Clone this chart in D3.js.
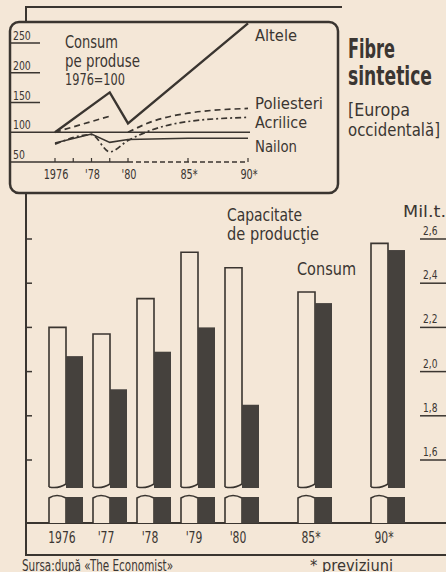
<!DOCTYPE html>
<html>
<head>
<meta charset="utf-8">
<script src="https://cdn.jsdelivr.net/npm/d3@7"></script>
<style>
  body { margin: 0; background: #f4e7d7; }
  svg text { font-family: "Liberation Sans Narrow", "DejaVu Sans Condensed", "DejaVu Sans", sans-serif; fill: #3b3632; }
</style>
</head>
<body>
<svg id="chart" width="446" height="572"></svg>
<script>
// --- bar chart: Mil. t.
var yearLabels = ["1976", "'77", "'78", "'79", "'80", "85*", "90*"];
var years = [1976, 1977, 1978, 1979, 1980, 1985, 1990];
var capacitate = [2.20, 2.17, 2.33, 2.54, 2.47, 2.36, 2.58];
var consum = [2.07, 1.92, 2.09, 2.20, 1.85, 2.31, 2.55];
var barTicks = [1.6, 1.8, 2.0, 2.2, 2.4, 2.6];

// --- inset: consum pe produse, 1976=100
var altele = [[1976, 100], [1979, 167], [1980, 115], [1990, 283]];
var poliesteri = [[1976, 100], [1979, 127], null, [1980, 100], [1982, 118], [1985, 132], [1990, 140]];
var acrilice = [[1976, 80], [1978, 96], [1979, 67], [1980, 86], [1982, 104], [1985, 118], [1990, 125]];
var nailon = [[1976, 82], [1978, 97], [1979, 83], [1980, 88], [1985, 90], [1990, 90]];
var insetTicks = [50, 100, 150, 200, 250];
var insetYears = [1976, 1977, 1978, 1979, 1980, 1985, 1990];
var insetYearLabels = [[1976, "1976"], [1978, "'78"], [1980, "'80"], [1985, "85*"], [1990, "90*"]];

var ink = "#3a3530";
var paper = "#f4e7d7";
var svg = d3.select("#chart");

// the printed type is narrow: squeeze text to a width
function label(parent, x, y, size, w, str, weight) {
  var t = parent.append("text").attr("x", x).attr("y", y).attr("font-size", size).text(str);
  if (w) t.attr("textLength", w).attr("lengthAdjust", "spacingAndGlyphs");
  if (weight) t.attr("font-weight", weight);
  return t;
}
function condense(sel, k) {
  sel.each(function() {
    var w = this.getComputedTextLength();
    d3.select(this).attr("textLength", w * k).attr("lengthAdjust", "spacingAndGlyphs");
  });
}

// outer frame
svg.append("path")
  .attr("d", "M26,22 V7 H342 M26,193 V555 H446 M26,523 H446")
  .attr("fill", "none").attr("stroke", ink).attr("stroke-width", 2);

// ================= bar chart =================
var x = d3.scaleLinear().domain([1976, 1980, 1985, 1990]).range([66, 242, 315, 388]);
var y = d3.scaleLinear().domain([1.6, 2.6]).range([460, 239]);
var bw = 17, breakTop = 487, breakBottom = 497, base = 523;

var groups = svg.append("g").selectAll("g")
  .data(years.map(function(d, i) { return {year: d, label: yearLabels[i], cap: capacitate[i], con: consum[i]}; }))
  .enter().append("g");

// capacity (white) bars - upper part with broken bottom
groups.append("path")
  .attr("d", function(d) {
    var l = x(d.year) - bw, r = x(d.year), t = y(d.cap);
    return "M" + l + "," + breakTop + " V" + t + " H" + r + " V" + (breakTop - 3) +
      " Q" + (l + bw * 0.55) + "," + (breakTop + 2) + " " + l + "," + breakTop;
  })
  .attr("fill", paper).attr("stroke", ink).attr("stroke-width", 1.6);

// capacity (white) bars - lower stub
groups.append("path")
  .attr("d", function(d) {
    var l = x(d.year) - bw, r = x(d.year);
    return "M" + l + "," + base + " V" + (breakBottom + 1) +
      " Q" + (l + bw * 0.45) + "," + (breakBottom - 4) + " " + r + "," + (breakBottom + 1) + " V" + base;
  })
  .attr("fill", paper).attr("stroke", ink).attr("stroke-width", 1.6);

// consumption (dark) bars
groups.append("rect")
  .attr("x", function(d) { return x(d.year); })
  .attr("y", function(d) { return y(d.con); })
  .attr("width", bw)
  .attr("height", function(d) { return breakTop + 1 - y(d.con); })
  .attr("fill", "#45413d");
groups.append("rect")
  .attr("x", function(d) { return x(d.year); })
  .attr("y", breakBottom)
  .attr("width", bw)
  .attr("height", base - breakBottom)
  .attr("fill", "#45413d");

// year labels
groups.append("text")
  .attr("x", function(d) { return x(d.year) - 4; })
  .attr("y", 543)
  .attr("text-anchor", "middle")
  .attr("font-size", 15)
  .text(function(d) { return d.label; })
  .call(condense, 0.8);

// left ticks
svg.append("g").selectAll("line").data(barTicks).enter().append("line")
  .attr("x1", 26).attr("x2", 32)
  .attr("y1", function(d) { return y(d); }).attr("y2", function(d) { return y(d); })
  .attr("stroke", ink).attr("stroke-width", 1.5);

// right axis labels, underlined
var fmt = d3.format(".1f");
var rAxis = svg.append("g").selectAll("g").data(barTicks).enter().append("g");
rAxis.append("text")
  .attr("x", 423).attr("y", function(d) { return y(d) - 4; })
  .attr("font-size", 12)
  .text(function(d) { return fmt(d).replace(".", ","); })
  .call(condense, 0.84);
rAxis.append("line")
  .attr("x1", 420).attr("x2", 446)
  .attr("y1", function(d) { return y(d); }).attr("y2", function(d) { return y(d); })
  .attr("stroke", ink).attr("stroke-width", 1.5);

label(svg, 403, 217, 16, 43, "Mil.t.");
label(svg, 227, 221, 17, 75, "Capacitate");
label(svg, 227, 240, 17, 92, "de producţie");
label(svg, 297, 275, 18, 59, "Consum");

// ================= inset =================
var ix = d3.scaleLinear().domain([1976, 1980, 1990]).range([55, 128, 248]);
var iy = d3.scaleLinear().domain([50, 250]).range([162, 43]);

var inset = svg.append("g");
inset.append("rect")
  .attr("x", 10).attr("y", 22).attr("width", 328).attr("height", 171).attr("rx", 9)
  .attr("fill", paper).attr("stroke", ink).attr("stroke-width", 2.5);

// y labels with underlines
inset.selectAll("text.yl").data(insetTicks).enter().append("text")
  .attr("class", "yl")
  .attr("x", 13).attr("y", function(d) { return iy(d) - 3; })
  .attr("font-size", 12.5)
  .text(function(d) { return d; })
  .call(condense, 0.83);
inset.selectAll("line.yl").data(insetTicks.filter(function(d) { return d > 50; })).enter().append("line")
  .attr("class", "yl")
  .attr("x1", 10).attr("x2", function(d) { return d === 100 ? 250 : 40; })
  .attr("y1", function(d) { return iy(d); }).attr("y2", function(d) { return iy(d); })
  .attr("stroke", ink).attr("stroke-width", 1.5);

// x axis: solid to 1980, dashed after
inset.append("line").attr("x1", 10).attr("x2", ix(1980)).attr("y1", iy(50)).attr("y2", iy(50))
  .attr("stroke", ink).attr("stroke-width", 1.5);
inset.append("line").attr("x1", ix(1980)).attr("x2", ix(1990)).attr("y1", iy(50)).attr("y2", iy(50))
  .attr("stroke", ink).attr("stroke-width", 1.5).attr("stroke-dasharray", "5,3");
inset.selectAll("line.xt").data(insetYears).enter().append("line")
  .attr("class", "xt")
  .attr("x1", function(d) { return ix(d); }).attr("x2", function(d) { return ix(d); })
  .attr("y1", iy(50)).attr("y2", iy(50) - 4)
  .attr("stroke", ink).attr("stroke-width", 1.2);
inset.selectAll("text.xl").data(insetYearLabels).enter().append("text")
  .attr("class", "xl")
  .attr("x", function(d) { return ix(d[0]) + 1; }).attr("y", 179)
  .attr("text-anchor", "middle").attr("font-size", 13.5)
  .text(function(d) { return d[1]; })
  .call(condense, 0.8);

var line = d3.line()
  .defined(function(d) { return d; })
  .x(function(d) { return ix(d[0]); })
  .y(function(d) { return iy(d[1]); });
var smooth = d3.line()
  .defined(function(d) { return d; })
  .curve(d3.curveMonotoneX)
  .x(function(d) { return ix(d[0]); })
  .y(function(d) { return iy(d[1]); });

inset.append("path").attr("d", line(altele))
  .attr("fill", "none").attr("stroke", ink).attr("stroke-width", 2.4);
inset.append("path").attr("d", smooth(poliesteri))
  .attr("fill", "none").attr("stroke", ink).attr("stroke-width", 1.7).attr("stroke-dasharray", "6,4");
inset.append("path").attr("d", smooth(acrilice))
  .attr("fill", "none").attr("stroke", ink).attr("stroke-width", 1.7).attr("stroke-dasharray", "6,3,2,3");
inset.append("path").attr("d", line(nailon))
  .attr("fill", "none").attr("stroke", ink).attr("stroke-width", 1.5);

// series labels: name, baseline, width
var lab = [["Altele", 41, 42], ["Poliesteri", 109, 68], ["Acrilice", 128, 52], ["Nailon", 152, 42]];
lab.forEach(function(d) { label(inset, 255, d[1], 16.5, d[2], d[0]); });

label(inset, 65, 48, 18, 53, "Consum");
label(inset, 65, 67, 18, 75, "pe produse");
label(inset, 65, 85, 15, 60, "1976=100");

// title
label(svg, 348, 58, 26, 47, "Fibre", "bold");
label(svg, 348, 85, 26, 84, "sintetice", "bold");
label(svg, 348, 116, 18, 62, "[Europa");
label(svg, 348, 136, 18, 92, "occidentală]");

// footer
label(svg, 22, 571, 16, 151, "Sursa:după «The Economist»");
label(svg, 310, 571, 16, 83, "* previziuni");
</script>
</body>
</html>
